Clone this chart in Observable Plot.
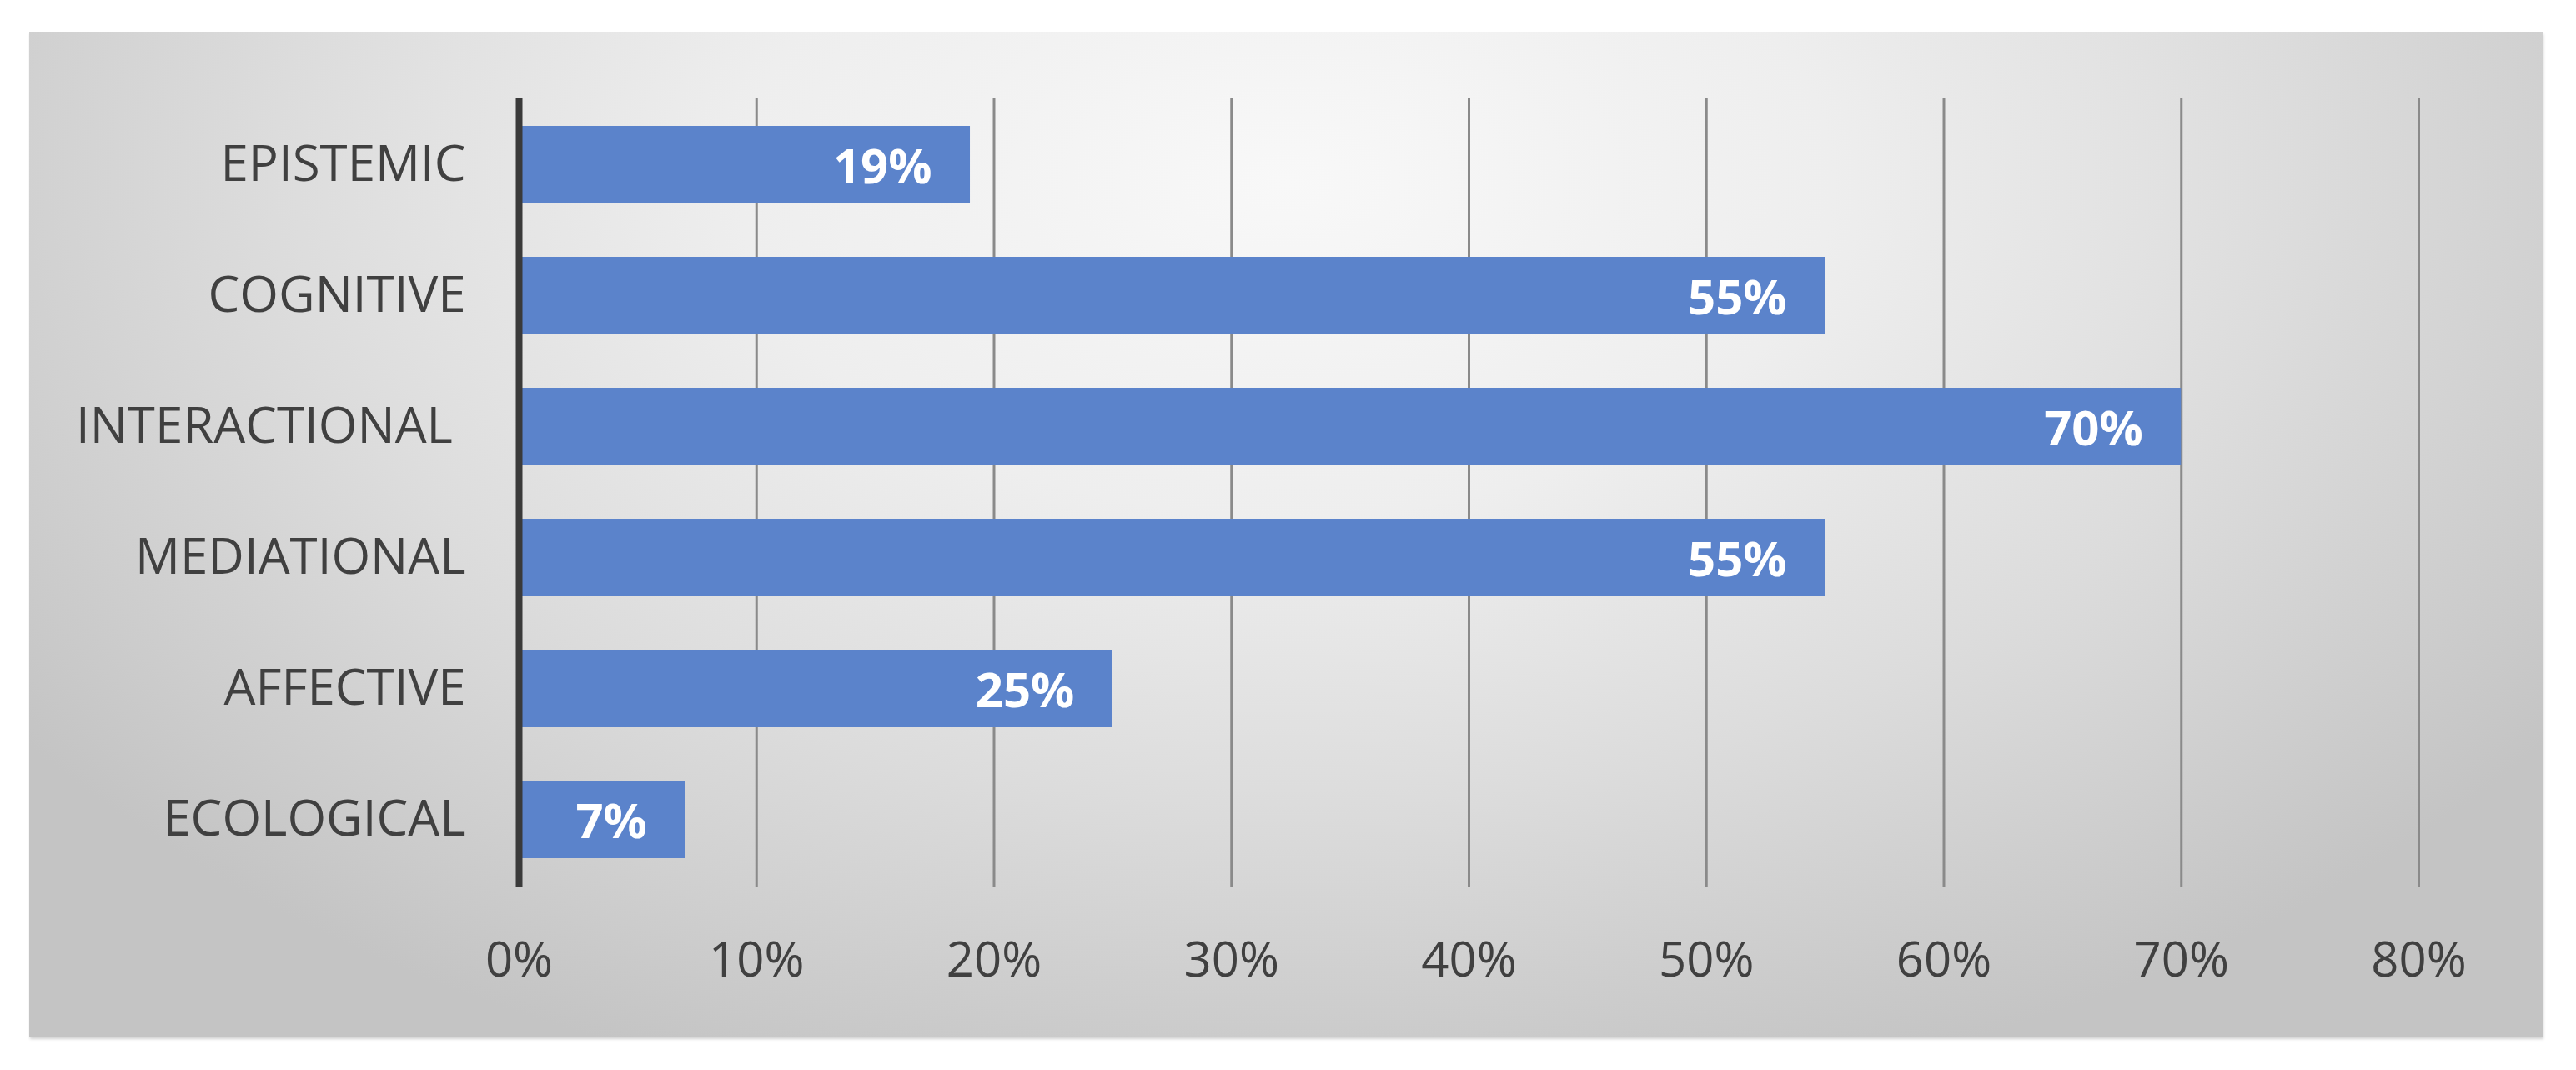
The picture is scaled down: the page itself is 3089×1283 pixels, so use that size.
<!DOCTYPE html>
<html>
<head>
<meta charset="utf-8">
<script src="https://cdn.jsdelivr.net/npm/d3@7"></script>
<script src="https://cdn.jsdelivr.net/npm/@observablehq/plot@0.6"></script>
<style>
  html, body { margin: 0; padding: 0; background: #ffffff; }
  #wrap { position: relative; width: 3089px; height: 1283px; overflow: hidden; background: #ffffff; }
  #panel {
    position: absolute; left: 35px; top: 38px; width: 3014px; height: 1205px;
    background: radial-gradient(ellipse 62% 95% at 50% 15%, #f8f8f8 0%, #eeeeee 35%, #dcdcdc 65%, #c4c4c4 100%);
    box-shadow: 1px 3px 3px rgba(0,0,0,0.18);
  }
  #chart { position: absolute; left: 0; top: 0; }
</style>
</head>
<body>
<div id="wrap"><div id="panel"></div><div id="chart"></div></div>
<script>
const categories = ["EPISTEMIC", "COGNITIVE", "INTERACTIONAL\u00a0", "MEDIATIONAL", "AFFECTIVE", "ECOLOGICAL"];
const values = [0.19, 0.55, 0.70, 0.55, 0.25, 0.07];
const xTicks = [0, 0.1, 0.2, 0.3, 0.4, 0.5, 0.6, 0.7, 0.8];

const data = categories.map((c, i) => ({category: c, value: values[i]}));

const chart = Plot.plot({
  width: 3089,
  height: 1283,
  marginLeft: 622,
  marginRight: 189,
  marginTop: 117,
  marginBottom: 220,
  style: {background: "transparent", color: "#404040", fontFamily: "'Open Sans', sans-serif"},
  x: {domain: [0, 0.8], ticks: xTicks, label: null},
  y: {domain: categories, paddingInner: 0.41, paddingOuter: 0.205, label: null},
  marks: [
    Plot.gridX(xTicks.slice(1), {stroke: "#8a8a8a", strokeOpacity: 1, strokeWidth: 3}),
    Plot.barX(data, {x: "value", y: "category", fill: "#5b83cb"}),
    Plot.text(data, {x: "value", y: "category", text: d => Math.round(d.value * 100) + "%", textAnchor: "end", dx: -46, dy: 3, fill: "#ffffff", fontWeight: "bold", fontSize: 58}),
    Plot.ruleX([0], {stroke: "#3a3a3a", strokeWidth: 8}),
    Plot.axisX(xTicks, {tickSize: 0, tickPadding: 66, fontSize: 58, tickFormat: d => Math.round(d * 100) + "%", fill: "#404040", label: null}),
    Plot.axisY({tickSize: 0, tickPadding: 64, fontSize: 60, fill: "#404040", label: null})
  ]
});
document.getElementById("chart").appendChild(chart);
</script>
</body>
</html>
